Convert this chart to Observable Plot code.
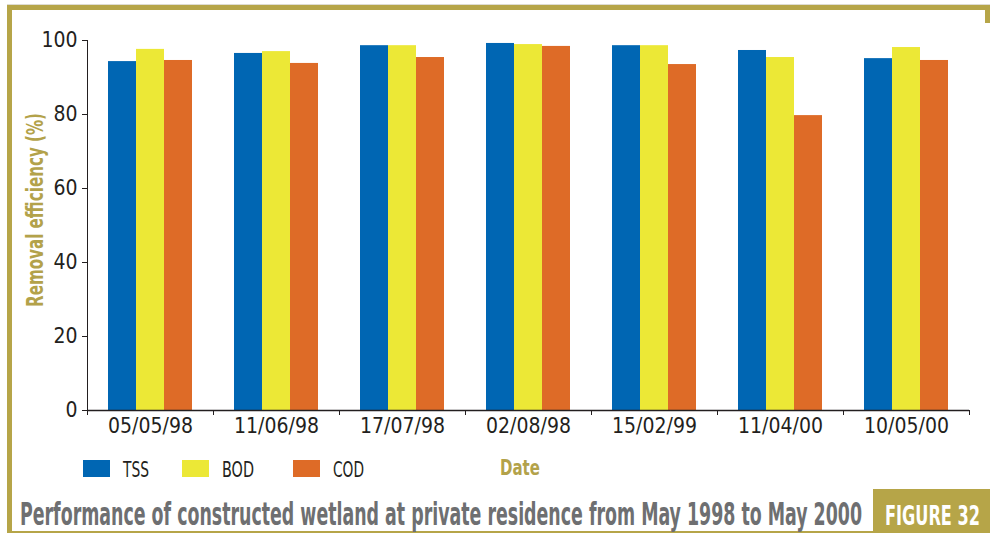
<!DOCTYPE html>
<html>
<head>
<meta charset="utf-8">
<script src="https://cdn.jsdelivr.net/npm/d3@7"></script>
<script src="https://cdn.jsdelivr.net/npm/@observablehq/plot@0.6"></script>
<style>
  html, body { margin: 0; padding: 0; background: #fff; }
  #wrap { position: relative; width: 990px; height: 533px; overflow: hidden; background: #fff;
          font-family: "Liberation Sans Narrow", "DejaVu Sans Condensed", "Liberation Sans", sans-serif; }
  #wrap svg { position: absolute; left: 0; top: 0; }
  .deco { position: absolute; background: #b6a548; }
  .txt { position: absolute; white-space: nowrap; line-height: 1; transform-origin: 0 0; }
</style>
</head>
<body>
<div id="wrap"></div>
<script>
// ---- data ----
const dates = ["05/05/98", "11/06/98", "17/07/98", "02/08/98", "15/02/99", "11/04/00", "10/05/00"];
const series = ["TSS", "BOD", "COD"];
const tss = [94.3, 96.5, 98.6, 99.2, 98.6, 97.3, 95.1];
const bod = [97.6, 97.0, 98.6, 98.9, 98.6, 95.4, 98.1];
const cod = [94.6, 93.8, 95.4, 98.4, 93.5, 79.7, 94.6];
const yTicks = [0, 20, 40, 60, 80, 100];
const colors = ["#0066b3", "#ece836", "#de6b27"];
const titleText = "Performance of constructed wetland at private residence from May 1998 to May 2000";
const figureText = "FIGURE 32";
const yLabel = "Removal efficiency (%)";
const xLabel = "Date";

const valuesBySeries = {TSS: tss, BOD: bod, COD: cod};
const rows = dates.flatMap((date, i) => series.map(s => ({date, series: s, value: valuesBySeries[s][i]})));

const W = 990, H = 450, mL = 87, mR = 21, mT = 40, mB = 40;
const step = (W - mL - mR) / dates.length;
const ink = "#231f20";

const wrap = document.getElementById("wrap");

// decorative frame
function deco(l, t, w, h) {
  const d = document.createElement("div");
  d.className = "deco";
  Object.assign(d.style, {left: l + "px", top: t + "px", width: w + "px", height: h + "px"});
  wrap.appendChild(d);
  return d;
}
const shadow = deco(7, 4, 983, 1); shadow.style.background = "#dedcd2";
deco(7, 5, 983, 5);
deco(985, 5, 5, 18);
deco(7, 5, 5, 528);
deco(7, 531, 866, 2);
deco(873, 489, 117, 44);

const chart = Plot.plot({
  width: W, height: H,
  marginLeft: mL, marginRight: mR, marginTop: mT, marginBottom: mB,
  style: {fontFamily: '"Liberation Sans Narrow", "DejaVu Sans Condensed", "Liberation Sans", sans-serif',
          fontSize: "21px", color: ink, background: "transparent", overflow: "visible"},
  fx: {domain: dates, padding: 0, label: null},
  x: {domain: series, paddingInner: 0, paddingOuter: 0.716, axis: null},
  y: {domain: [0, 100], ticks: yTicks, tickSize: 5, tickPadding: 5, line: true, label: null},
  color: {domain: series, range: colors},
  marks: [
    Plot.barY(rows, {fx: "date", x: "series", y: "value", fill: "series"}),
    Plot.ruleY([0], {stroke: ink, strokeWidth: 1.3}),
    Plot.axisFx({anchor: "bottom", tickSize: 0, tickPadding: 8, label: null}),
    Plot.axisFx({anchor: "bottom", tickSize: 5, tickFormat: () => "", dx: -step / 2, label: null}),
    Plot.axisFx({anchor: "bottom", ticks: [dates[dates.length - 1]], tickSize: 5, tickFormat: () => "", dx: step / 2, label: null})
  ]
});
wrap.appendChild(chart);

// text helpers
function addText(str, opts) {
  const s = document.createElement("span");
  s.className = "txt";
  s.textContent = str;
  Object.assign(s.style, {
    fontSize: opts.size + "px", fontWeight: opts.bold ? "bold" : "normal",
    color: opts.color, left: opts.left + "px", top: opts.top + "px"
  });
  wrap.appendChild(s);
  const w = s.getBoundingClientRect().width;
  const k = opts.width ? opts.width / w : 1;
  s.style.transform = (opts.pre || "") + ` scaleX(${k})` + (opts.post || "");
  return s;
}

// title & figure number
addText(titleText, {size: 32, bold: true, color: "#6e6f71", left: 20, top: 498, width: 842});
addText(figureText, {size: 26.5, bold: true, color: "#ffffff", left: 885, top: 503, width: 95});

// y label (rotated)
addText(yLabel, {size: 23, bold: true, color: "#b3a24a", left: 35, top: 210, width: 194,
                 pre: "rotate(-90deg)", post: " translate(-50%, -50%)"});

// x label
addText(xLabel, {size: 22, bold: true, color: "#b3a24a", left: 520, top: 457, width: 40, post: " translate(-50%, 0)"});

// legend
const legendSwatchX = [83, 182, 293];
const legendTextW = [26, 32, 31];
series.forEach((s, i) => {
  const sw = document.createElement("div");
  Object.assign(sw.style, {position: "absolute", left: legendSwatchX[i] + "px", top: "460px",
                           width: "27px", height: "17px", background: colors[i]});
  wrap.appendChild(sw);
  addText(s, {size: 22, color: ink, left: legendSwatchX[i] + 40, top: 458.5, width: legendTextW[i]});
});
</script>
</body>
</html>
